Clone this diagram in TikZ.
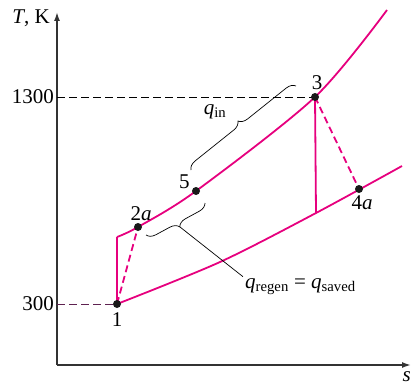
\documentclass[tikz,border=0pt]{standalone}
\usepackage{fontspec}
\setmainfont{Liberation Serif}
\usetikzlibrary{arrows.meta,positioning,decorations.pathreplacing}
\definecolor{cyclepink}{HTML}{E6007E}
\definecolor{lowguide}{HTML}{5E2150}

\begin{document}
\begin{tikzpicture}[
    x=1pt, y=-1pt,
    font=\fontsize{21}{25}\selectfont,
    axis/.style={-{Latex[length=9pt,width=6pt]}, line width=1.6pt, draw=black!80},
    proc/.style={draw=cyclepink, line width=1.8pt},
    irr/.style={proc, dash pattern=on 7pt off 4pt},
    guide/.style={dash pattern=on 8pt off 4pt, line width=0.9pt},
    dot/.style={circle, fill=black!90, inner sep=0pt, minimum size=8pt},
    brace/.style={decorate, decoration={brace, amplitude=9pt}, line width=0.7pt},
    tick/.style={anchor=east, inner sep=3pt}
  ]
    \useasboundingbox (0,0) rectangle (411,387);

    % axes
    \coordinate (O) at (57,365);
    \coordinate (Ttop) at (57,12);
    \coordinate (sEnd) at (411,365);
    \draw[axis] (O) -- (Ttop);
    \draw[axis] (O) -- (sEnd);
    \node[anchor=east, inner sep=3pt] (Tlab) at (53,18) {\textit{T}, K};
    \node[anchor=north east, inner sep=0pt] (slab) at (411,371) {\textit{s}};
    \node[tick] (t1300) at (57,97) {1300};
    \node[tick] (t300)  at (57,304) {300};

    % state points
    \coordinate (s1)  at (117,304);
    \coordinate (s2a) at (138,227);
    \coordinate (s5)  at (196,191);
    \coordinate (s3)  at (315,97);
    \coordinate (s4a) at (359,189);
    \coordinate (s2)  at (117,237);
    \coordinate (s4)  at (316,213);

    \draw[guide] (t1300.east) -- (s3);
    \draw[guide, draw=lowguide] (t300.east) -- (s1);

    % constant pressure lines
    \draw[proc] plot[smooth] coordinates {(117,237) (138,227) (196,191) (315,97) (387,10)};
    \draw[proc] plot[smooth] coordinates {(117,304) (220,262) (316,213) (402,166)};

    \draw[proc] (s1) -- (s2);
    \draw[proc] (s3) -- (s4);
    \draw[irr] (s1) -- (s2a);
    \draw[irr] (s3) -- (s4a);

    \node[dot] (p1)  at (s1)  {};
    \node[dot] (p2a) at (s2a) {};
    \node[dot] (p5)  at (s5)  {};
    \node[dot] (p3)  at (s3)  {};
    \node[dot] (p4a) at (s4a) {};

    \node[below=1pt of p1] (l1) {1};
    \node[above=-1pt of p2a, xshift=3pt] (l2a) {2\textit{a}};
    \node[above left=-4pt and 0pt of p5] (l5) {5};
    \node[above=0pt of p3, xshift=2pt] (l3) {3};
    \node[below=-1pt of p4a, xshift=3pt] (l4a) {4\textit{a}};

    % heat transfer braces
    \coordinate (qa) at (191,170);
    \coordinate (qb) at (296,86);
    \draw[brace] (qa) -- (qb);
    \node (qin) at (215,112) {\textit{q}\textsubscript{in}};

    \coordinate (ra) at (205,203);
    \coordinate (rb) at (146,235);
    \coordinate (rt) at (180,227);
    \draw[brace] (ra) -- (rb);
    \node[anchor=west, inner sep=2pt] (qreg) at (243,287)
      {\textit{q}\textsubscript{regen} = \textit{q}\textsubscript{saved}};
    \draw[line width=0.7pt] (rt) -- (qreg.north west);
  \end{tikzpicture}
\end{document}
